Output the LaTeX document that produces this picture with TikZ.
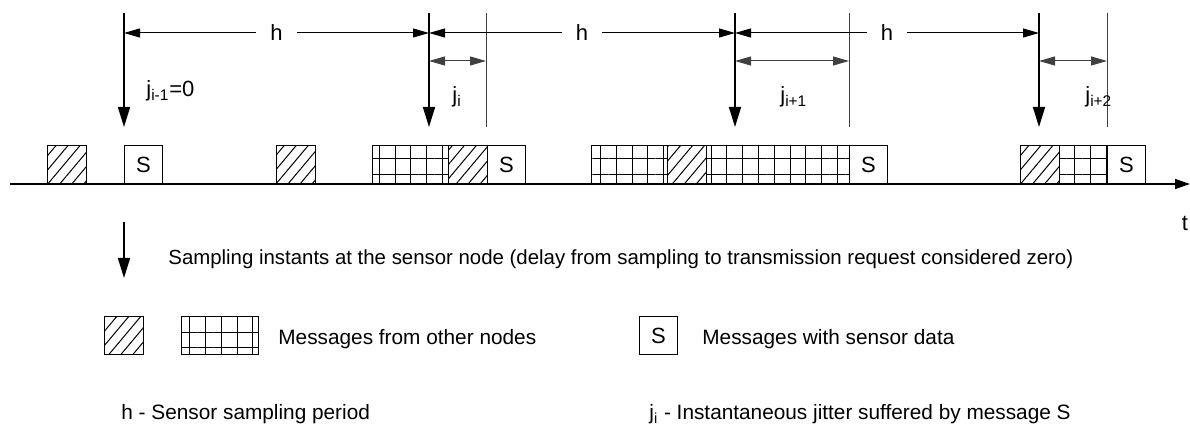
\documentclass[tikz,border=0pt]{standalone}
\usepackage{fontspec}
\setmainfont{Liberation Sans}
\usetikzlibrary{arrows.meta,patterns.meta}
\tikzset{
  >={Triangle[length=8pt,width=4.5pt]},
  msg/.style    ={draw,line width=0.5pt,anchor=south west,inner sep=0pt,
                  minimum height=19pt,minimum width=19pt,
                  font=\fontsize{11}{13}\selectfont},
  othermsg/.style={msg,pattern={Lines[angle=50,distance=4.6pt,line width=0.5pt]}},
  gridmsg/.style={msg,pattern={Hatch[angle=0,distance=7.9pt,line width=0.5pt]}},
  lbl/.style    ={font=\fontsize{11}{13}\selectfont,inner sep=1pt},
  note/.style   ={font=\fontsize{10.4}{12}\selectfont,anchor=west,inner sep=0pt},
  sample/.style ={-{Triangle[length=10pt,width=6pt]},line width=0.8pt},
  period/.style ={<->,line width=0.5pt},
  jitter/.style ={<->,draw=black!75,line width=0.5pt},
  jline/.style  ={draw=black!75,line width=0.5pt},
  axis/.style   ={-{Triangle[length=7.5pt,width=5pt]},line width=0.75pt},
}

\begin{document}
\begin{tikzpicture}[x=0.5pt,y=-0.5pt]
\useasboundingbox (0,0) rectangle (1190,427);
\coordinate (k1) at (124,13);
\coordinate (k2) at (429,13);
\coordinate (k3) at (735,13);
\coordinate (k4) at (1039,13);
\coordinate (r2) at (486,13);
\coordinate (r3) at (849,13);
\coordinate (r4) at (1107,13);
\node[othermsg,minimum width=19.5pt] (o1) at (47,184) {};
\node[msg] (s1) at (124,184) {S};
\node[othermsg,minimum width=19.5pt] (o2) at (276,184) {};
\node[gridmsg,minimum width=38pt] (g3) at (372,184) {};
\node[othermsg,minimum width=19.5pt] (o3) at (448,184) {};
\node[msg] (s2) at (487,184) {S};
\node[gridmsg,minimum width=38pt] (g4) at (591,184) {};
\node[othermsg,minimum width=19.5pt] (o4) at (667,184) {};
\node[gridmsg,minimum width=71.5pt] (g5) at (706,184) {};
\node[msg] (s3) at (849,184) {S};
\node[othermsg,minimum width=19.5pt] (o6) at (1020,184) {};
\node[gridmsg,minimum width=24pt] (g6) at (1059,184) {};
\node[msg] (s4) at (1107,184) {S};
\draw[axis] (10,184) -- (1190,184);
\node[lbl] (t) at (1185,223) {t};
\draw[sample] (k1) -- ++(0,114);
\draw[sample] (k2) -- ++(0,114);
\draw[sample] (k3) -- ++(0,114);
\draw[sample] (k4) -- ++(0,114);
\draw[jline] (r2) -- ++(0,114);
\draw[jline] (r3) -- ++(0,114);
\draw[jline] (r4) -- ++(0,114);
\draw[period] ([yshift=-10pt]k1) -- node[lbl,fill=white,inner xsep=7pt] {h} ([yshift=-10pt]k2);
\draw[period] ([yshift=-10pt]k2) -- node[lbl,fill=white,inner xsep=7pt] {h} ([yshift=-10pt]k3);
\draw[period] ([yshift=-10pt]k3) -- node[lbl,fill=white,inner xsep=7pt] {h} ([yshift=-10pt]k4);
\draw[jitter] ([yshift=-24pt]k2) -- ([yshift=-24pt]r2);
\draw[jitter] ([yshift=-24pt]k3) -- ([yshift=-24pt]r3);
\draw[jitter] ([yshift=-24pt]k4) -- ([yshift=-24pt]r4);
\node[lbl,anchor=west] (j1) at (144,91) {j\textsubscript{i-1}=0};
\node[lbl,anchor=west] (j2) at (450,97) {j\textsubscript{i}};
\node[lbl,anchor=west] (j3) at (778,97) {j\textsubscript{i+1}};
\node[lbl,anchor=west] (j4) at (1083,97) {j\textsubscript{i+2}};
\coordinate (kl) at (124,222);
\draw[sample] (kl) -- ++(0,56);
\node[note,font=\fontsize{10.2}{12}\selectfont] (samp) at (168,259) {Sampling instants at the sensor node (delay from sampling to transmission request considered zero)};
\node[othermsg,minimum width=19.5pt] (lo) at (104,355) {};
\node[gridmsg,minimum width=38.5pt] (lg) at (181,355) {};
\node[note] (lother) at (278,339) {Messages from other nodes};
\node[msg] (ls) at (639,355) {S};
\node[note] (lsens) at (702,339) {Messages with sensor data};
\node[note] (lh) at (121,414) {h - Sensor sampling period};
\node[note] (lj) at (649,414) {j\textsubscript{i} - Instantaneous jitter suffered by message S};
\end{tikzpicture}
\end{document}
